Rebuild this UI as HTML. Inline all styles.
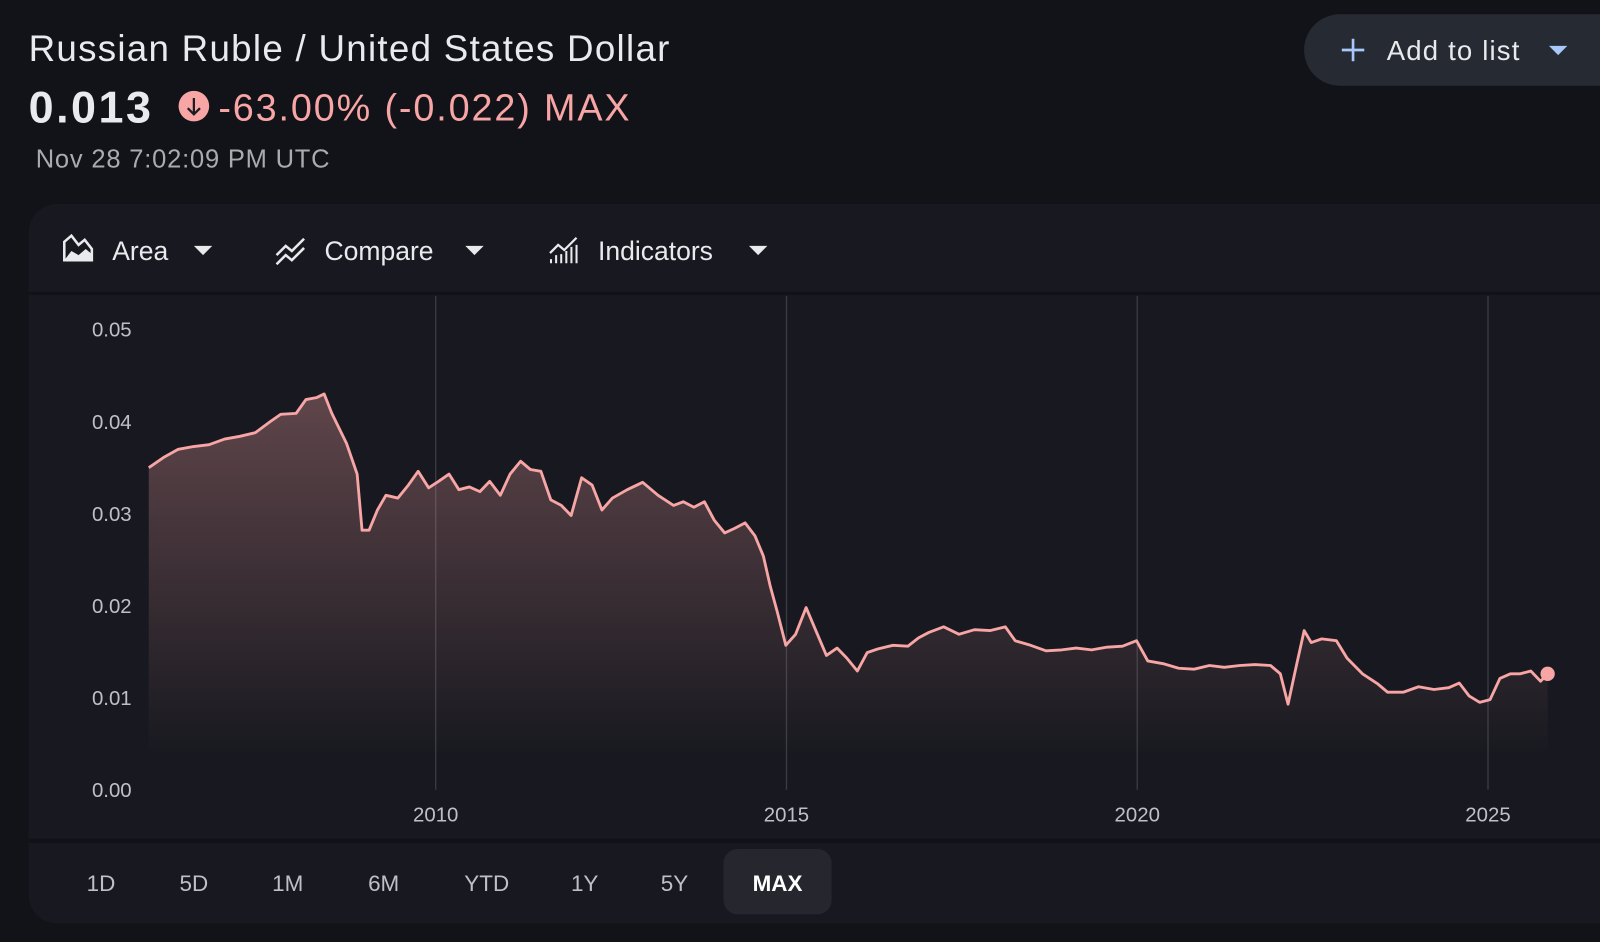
<!DOCTYPE html>
<html><head><meta charset="utf-8"><style>
html,body{margin:0;padding:0;background:#121319;width:1600px;height:942px;overflow:hidden;font-family:"Liberation Sans",sans-serif}
</style></head><body>
<svg id="chart" width="1600" height="942" xmlns="http://www.w3.org/2000/svg">
<defs>
<linearGradient id="fillg" x1="0" y1="0" x2="0" y2="1">
<stop offset="0" stop-color="#f7a5a5" stop-opacity="0.32"/>
<stop offset="0.75" stop-color="#f7a5a5" stop-opacity="0.08"/>
<stop offset="1" stop-color="#f7a5a5" stop-opacity="0"/>
</linearGradient>
</defs>
<rect x="0" y="0" width="1600" height="942" fill="#121319"/>
<g transform="scale(1.0204)">
<text x="28" y="60" font-size="36" fill="#e8eaed" textLength="628">Russian Ruble / United States Dollar</text>
<text x="28" y="120" font-size="44" fill="#e8eaed" font-weight="bold" textLength="120">0.013</text>
<g>
<circle cx="190" cy="104" r="15" fill="#f7a5a5"/>
<path d="M190 96 V112 M184 106 L190 112 L196 106" stroke="#1c1c22" stroke-width="2.2" fill="none"/>
</g>
<text x="214" y="118" font-size="37" fill="#f7a5a5" textLength="403">-63.00% (-0.022) MAX</text>
<text x="35" y="164" font-size="25" fill="#a8abb2" textLength="288">Nov 28 7:02:09 PM UTC</text>
<g>
<rect x="1278" y="14" width="340" height="70" rx="35" fill="#262a33"/>
<path d="M1326 38 V60 M1315 49 H1337" stroke="#a8c7fa" stroke-width="2.6"/>
<text x="1359" y="59" font-size="27" fill="#e8eaed" textLength="130">Add to list</text>
<path d="M1518 45 L1536 45 L1527 54 Z" fill="#a8c7fa"/>
</g>
<rect x="28" y="200" width="1600" height="705" rx="28" fill="#181920"/>
<rect x="28" y="286" width="1600" height="3" fill="#111217"/>
<rect x="28" y="822" width="1600" height="4" fill="#111217"/>
<g>
<path d="M63 255 V237 L70 231 L77 240 L83 235 L90 244 V255 Z" fill="none" stroke="#e8eaed" stroke-width="2.5"/>
<path d="M63 255 L70 246 L77 250 L84 244 L90 249 V255 Z" fill="#e8eaed"/>
<text x="110" y="255" font-size="26" fill="#e8eaed">Area</text>
<path d="M190 241 H208 L199 250 Z" fill="#e8eaed"/>
</g>
<g>
<path d="M271 250 L280 241 L286 246 L298 234 M271 259 L280 250 L286 255 L298 243" stroke="#e8eaed" stroke-width="2.5" fill="none"/>
<text x="318" y="255" font-size="26" fill="#e8eaed">Compare</text>
<path d="M456 241 H474 L465 250 Z" fill="#e8eaed"/>
</g>
<g>
<path d="M539 248 L547 240 L553 245 L565 233" stroke="#e8eaed" stroke-width="2.2" fill="none"/>
<path d="M540 258 V254 M545 258 V250 M550 258 V249 M555 258 V246 M560 258 V242 M565 258 V240" stroke="#e8eaed" stroke-width="2"/>
<text x="586" y="255" font-size="26" fill="#e8eaed">Indicators</text>
<path d="M734 241 H752 L743 250 Z" fill="#e8eaed"/>
</g>
<g id="plot"></g>
<g id="ranges"></g>
</g>
</svg>
<script>
const years = [2005.91,2006.12,2006.33,2006.55,2006.77,2006.99,2007.21,2007.43,2007.64,2007.79,2008.01,2008.15,2008.30,2008.41,2008.52,2008.73,2008.88,2008.95,2009.05,2009.17,2009.29,2009.46,2009.61,2009.75,2009.90,2010.04,2010.19,2010.33,2010.48,2010.63,2010.77,2010.92,2011.06,2011.21,2011.35,2011.50,2011.64,2011.79,2011.93,2012.08,2012.23,2012.37,2012.52,2012.73,2012.95,2013.17,2013.39,2013.53,2013.68,2013.83,2013.97,2014.12,2014.26,2014.41,2014.55,2014.67,2014.77,2014.87,2014.99,2015.13,2015.28,2015.43,2015.57,2015.72,2015.86,2016.01,2016.15,2016.30,2016.52,2016.73,2016.88,2017.03,2017.24,2017.46,2017.68,2017.90,2018.12,2018.26,2018.48,2018.70,2018.92,2019.13,2019.35,2019.57,2019.79,2019.99,2020.15,2020.37,2020.59,2020.81,2021.03,2021.24,2021.46,2021.68,2021.90,2022.04,2022.15,2022.26,2022.38,2022.48,2022.63,2022.84,2022.99,2023.21,2023.43,2023.57,2023.79,2024.01,2024.23,2024.44,2024.59,2024.73,2024.88,2025.03,2025.17,2025.32,2025.46,2025.61,2025.75,2025.85];
const rates = [.0350,.0361,.0370,.0373,.0375,.0381,.0384,.0388,.0400,.0408,.0409,.0424,.0426,.0430,.0409,.0376,.0343,.0282,.0282,.0304,.0320,.0317,.0331,.0346,.0328,.0335,.0343,.0326,.0329,.0324,.0335,.0320,.0343,.0357,.0348,.0346,.0315,.0309,.0298,.0339,.0331,.0304,.0317,.0326,.0334,.0320,.0309,.0313,.0307,.0313,.0293,.0279,.0284,.0290,.0276,.0254,.0221,.0193,.0157,.0169,.0198,.0171,.0146,.0154,.0143,.0129,.0149,.0153,.0157,.0156,.0165,.0171,.0177,.0169,.0174,.0173,.0177,.0162,.0157,.0151,.0152,.0154,.0152,.0155,.0156,.0162,.0140,.0137,.0132,.0131,.0135,.0133,.0135,.0136,.0135,.0126,.0093,.0132,.0173,.0160,.0164,.0162,.0143,.0126,.0115,.0106,.0106,.0112,.0109,.0111,.0116,.0102,.0095,.0098,.0121,.0126,.0126,.0129,.0118,.0126];
const yTicks = [0,0.01,0.02,0.03,0.04,0.05];
const yTickLabels = ["0.00","0.01","0.02","0.03","0.04","0.05"];
const xTicks = [2010,2015,2020,2025];
const ranges = ["1D","5D","1M","6M","YTD","1Y","5Y","MAX"];
const activeRange = "MAX";

const NS = "http://www.w3.org/2000/svg";
const xs = y => 427 + (y - 2010) * 68.75;
const ys = v => 774 - v * 9020;
function mk(tag, attrs, parent){const e=document.createElementNS(NS,tag);for(const k in attrs)e.setAttribute(k,attrs[k]);parent.appendChild(e);return e;}
const plot = document.getElementById('plot');
xTicks.forEach(t=>{
  const l = mk('line',{x1:xs(t),x2:xs(t),y1:290,y2:774,stroke:'#3a3c44','stroke-width':1.3},plot);
  
  
  const tx = mk('text',{x:xs(t),y:805,'font-size':20,fill:'#bdc1c6','text-anchor':'middle'},plot);
  tx.textContent = t;
  
  
});
yTicks.forEach((t,i)=>{
  const tx = mk('text',{x:129,y:ys(t)+7,'font-size':20,fill:'#bdc1c6','text-anchor':'end'},plot);
  tx.textContent = yTickLabels[i];
  
  
});
let d = '';
years.forEach((y,i)=>{d += (i?'L':'M') + xs(y).toFixed(1) + ' ' + ys(rates[i]).toFixed(1) + ' ';});
const n = years.length-1;
const area = mk('path',{d: d + 'L' + xs(years[n]).toFixed(1) + ' 740 L' + xs(years[0]).toFixed(1) + ' 740 Z', fill:'url(#fillg)'},plot);


const line = mk('path',{d:d, fill:'none', stroke:'#f7a5a5','stroke-width':2.8,'stroke-linejoin':'round'},plot);


const dot = mk('circle',{cx:xs(years[n]),cy:ys(rates[n]),r:7,fill:'#f7a5a5'},plot);



const rg = document.getElementById('ranges');
const rx = [99,190,282,376,477,573,661,762];
ranges.forEach((r,i)=>{
  const g = mk('g',{},rg);
  
  
  if(r===activeRange) mk('rect',{x:rx[i]-53,y:832,width:106,height:64,rx:14,fill:'#25262e'},g);
  const t = mk('text',{x:rx[i],y:873,'font-size':22,fill:r===activeRange?'#ffffff':'#bdc1c6','text-anchor':'middle','font-weight':r===activeRange?'bold':'normal'},g);
  t.textContent = r;
});
</script>
</body></html>
